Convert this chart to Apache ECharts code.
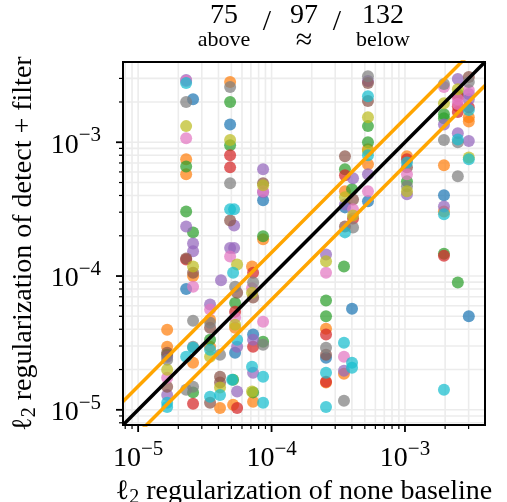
<!DOCTYPE html>
<html>
<head>
<meta charset="utf-8">
<script src="https://cdn.jsdelivr.net/npm/echarts@6/dist/echarts.min.js"></script>
<style>
  html, body { margin: 0; padding: 0; background: #fff; }
  #main { width: 507px; height: 502px; }
</style>
</head>
<body>
<div id="main"></div>
<script>
// both axes share the same limits
const axisMin = 7.7e-6
const axisMax = 3.98e-3
const decades = [1e-6, 1e-5, 1e-4, 1e-3]
const tickSteps = [1, 2, 3, 4, 5, 6, 7, 8, 9]

// header: count above / within / below the band
const counts = [75, 97, 132]
const countNames = ['above', '≈', 'below']
const bandRatio = 1.5

// points: [none baseline, detect + filter], one array per colour
const blue = [[2.58e-5, 2.1e-3], [2.29e-5, 8.0e-5], [4.89e-5, 1.36e-3], [5.33e-5, 2.67e-5], [8.64e-5, 3.68e-4], [7.27e-5, 3.65e-5],
  [2.56e-4, 2.45e-5], [4.01e-4, 5.7e-5], [3.01e-3, 5.0e-5], [3.55e-4, 3.26e-4], [5.28e-4, 3.62e-4], [1.96e-3, 4.01e-4]]
const orange = [[2.29e-5, 7.46e-4], [2.29e-5, 5.76e-4], [2.58e-5, 1.0e-4], [2.58e-5, 2.25e-5], [4.89e-5, 2.82e-3], [5.33e-5, 4.1e-5],
  [5.15e-5, 1.09e-5], [8.64e-5, 1.88e-4], [7.14e-5, 1.18e-4], [7.27e-5, 1.15e-5], [1.65e-5, 3.97e-5], [1.65e-5, 2.96e-5],
  [3.46e-5, 4.72e-5], [3.46e-5, 2.96e-5], [4.11e-5, 1.03e-5], [2.56e-4, 4.04e-5], [2.56e-4, 1.6e-5], [3.49e-4, 1.86e-5],
  [3.55e-4, 4.3e-4], [5.28e-4, 8.86e-4], [5.28e-4, 6.84e-4], [1.035e-3, 7.86e-4], [1.96e-3, 6.72e-4], [1.96e-3, 3.04e-4],
  [3.01e-3, 1.54e-3], [3.01e-3, 1.43e-3]]
const green = [[2.29e-5, 6.6e-4], [2.29e-5, 3.04e-4], [2.58e-5, 2.12e-4], [2.58e-5, 1.35e-5], [4.89e-5, 2.0e-3], [4.89e-5, 9.5e-4],
  [5.33e-5, 6.3e-5], [5.15e-5, 1.68e-5], [8.64e-5, 1.98e-4], [8.64e-5, 3.23e-5], [7.27e-5, 1.35e-5], [1.65e-5, 2.58e-5],
  [3.46e-5, 3.34e-5], [2.56e-4, 6.55e-5], [2.56e-4, 5.0e-5], [3.49e-4, 1.18e-4], [1.96e-3, 1.47e-4], [2.49e-3, 8.95e-5],
  [3.55e-4, 6.28e-4], [4.01e-4, 4.45e-4], [5.28e-4, 1.32e-3], [5.28e-4, 1.0e-3], [1.035e-3, 5.1e-4], [1.96e-3, 1.62e-3],
  [1.96e-3, 1.51e-3], [2.49e-3, 2.29e-3]]
const red = [[2.29e-5, 1.33e-4], [2.58e-5, 1.11e-5], [4.89e-5, 7.99e-4], [4.89e-5, 6.49e-4], [5.33e-5, 5.4e-5], [5.52e-5, 1.03e-5],
  [7.27e-5, 1.06e-4], [7.27e-5, 2.96e-5], [2.56e-4, 3.65e-5], [2.56e-4, 1.62e-5], [1.96e-3, 1.42e-4], [3.55e-4, 5.66e-4],
  [4.08e-4, 2.69e-4], [1.035e-3, 7.46e-4], [2.49e-3, 2.21e-3], [2.49e-3, 1.86e-3], [2.49e-3, 1.68e-3], [3.01e-3, 1.83e-3]]
const purple = [[2.29e-5, 2.92e-3], [2.29e-5, 2.35e-4], [2.58e-5, 1.75e-4], [2.58e-5, 1.53e-4], [5.24e-5, 2.39e-4], [4.89e-5, 1.62e-4],
  [5.24e-5, 1.62e-4], [4.18e-5, 9.3e-5], [5.52e-5, 2.96e-5], [5.52e-5, 1.37e-5], [8.64e-5, 6.28e-4], [8.64e-5, 4.23e-4],
  [7.27e-5, 3.34e-5], [7.27e-5, 1.89e-5], [1.65e-5, 2.49e-5], [1.65e-5, 1.29e-5], [3.46e-5, 6.12e-5], [2.56e-4, 1.45e-4],
  [3.49e-4, 1.96e-5], [4.08e-4, 5.38e-4], [3.55e-4, 3.43e-4], [5.28e-4, 2.87e-3], [5.28e-4, 5.76e-4], [1.035e-3, 4.08e-4],
  [1.96e-3, 1.36e-3], [1.96e-3, 3.31e-4], [2.49e-3, 2.97e-3], [2.49e-3, 1.17e-3], [3.01e-3, 2.29e-3], [3.01e-3, 2.1e-3],
  [3.01e-3, 1.02e-3]]
const brown = [[2.29e-5, 1.35e-4], [2.58e-5, 1.06e-4], [4.89e-5, 2.6e-4], [5.52e-5, 7.5e-5], [8.64e-5, 4.93e-4], [7.27e-5, 6.9e-5],
  [1.65e-5, 2.67e-5], [1.65e-5, 1.49e-5], [3.46e-5, 4.1e-5], [3.46e-5, 1.13e-5], [4.11e-5, 1.77e-5], [4.11e-5, 1.6e-5],
  [2.56e-4, 2.58e-5], [3.55e-4, 7.86e-4], [4.08e-4, 3.74e-4], [3.55e-4, 2.35e-4], [5.28e-4, 2.77e-3], [5.28e-4, 2.03e-3],
  [1.035e-3, 6.49e-4], [3.01e-3, 3.07e-3]]
const pink = [[2.29e-5, 2.87e-3], [2.29e-5, 1.07e-3], [2.58e-5, 8.3e-5], [4.89e-5, 1.4e-4], [5.33e-5, 4.9e-5], [8.64e-5, 4.3e-4],
  [7.14e-5, 8.1e-5], [8.64e-5, 4.56e-5], [3.46e-5, 5.61e-5], [1.65e-5, 1.74e-5], [2.56e-4, 1.06e-4], [3.49e-4, 2.49e-5],
  [4.08e-4, 3.15e-4], [5.28e-4, 4.3e-4], [1.035e-3, 5.76e-4], [1.96e-3, 2.59e-3], [2.49e-3, 2.1e-3], [2.49e-3, 1.93e-3],
  [3.01e-3, 2.45e-3]]
const gray = [[2.29e-5, 2.0e-3], [2.58e-5, 4.64e-5], [2.29e-5, 1.41e-5], [2.58e-5, 1.49e-5], [2.58e-5, 2.96e-5], [4.89e-5, 2.59e-3],
  [4.89e-5, 4.93e-4], [5.33e-5, 8.3e-5], [7.27e-5, 8.95e-5], [8.64e-5, 3.07e-5], [1.65e-5, 2.37e-5], [3.46e-5, 4.48e-5],
  [4.11e-5, 2.58e-5], [2.56e-4, 2.91e-5], [3.49e-4, 1.17e-5], [4.08e-4, 2.31e-4], [5.28e-4, 3.12e-3], [1.035e-3, 4.69e-4],
  [1.96e-3, 2.72e-3], [1.96e-3, 1.04e-3], [2.49e-3, 1.0e-3], [2.49e-3, 5.57e-4], [3.01e-3, 2.82e-3]]
const olive = [[2.29e-5, 1.32e-3], [2.58e-5, 1.18e-4], [4.89e-5, 1.04e-3], [5.52e-5, 1.22e-4], [5.33e-5, 4.33e-5], [8.64e-5, 4.77e-4],
  [7.14e-5, 7.5e-5], [7.14e-5, 1.37e-5], [1.65e-5, 1.99e-5], [3.46e-5, 2.49e-5], [4.11e-5, 1.47e-5], [2.56e-4, 1.29e-4],
  [3.55e-4, 3.88e-4], [4.08e-4, 2.84e-4], [5.28e-4, 1.54e-3], [5.28e-4, 8.6e-4], [1.035e-3, 4.3e-4], [1.96e-3, 1.96e-3],
  [2.49e-3, 2.49e-3], [3.01e-3, 7.7e-4]]
const cyan = [[2.29e-5, 2.77e-3], [2.29e-5, 2.49e-5], [2.58e-5, 2.91e-5], [4.89e-5, 3.15e-4], [5.24e-5, 3.15e-4], [5.15e-5, 1.06e-4],
  [5.52e-5, 3.34e-5], [5.06e-5, 1.68e-5], [7.14e-5, 2.1e-5], [8.64e-5, 1.77e-5], [8.64e-5, 1.13e-5], [1.65e-5, 1.13e-5],
  [1.65e-5, 1.05e-5], [3.46e-5, 2.81e-5], [3.46e-5, 1.25e-5], [4.11e-5, 1.29e-5], [2.56e-4, 1.89e-5], [2.56e-4, 1.05e-5],
  [3.49e-4, 3.17e-5], [4.01e-4, 2.25e-5], [4.01e-4, 2.06e-5], [1.96e-3, 1.41e-5], [3.55e-4, 2.12e-4], [5.28e-4, 2.21e-3],
  [5.28e-4, 7.99e-4], [1.035e-3, 7.07e-4], [1.96e-3, 2.89e-4], [2.49e-3, 1.05e-3], [3.01e-3, 1.74e-3], [3.01e-3, 7.46e-4]]

const groups = [
  [blue, '#1f77b4'], [orange, '#ff7f0e'], [green, '#2ca02c'], [red, '#d62728'], [purple, '#9467bd'],
  [brown, '#8c564b'], [pink, '#e377c2'], [gray, '#7f7f7f'], [olive, '#bcbd22'], [cyan, '#17becf']
]

const FONT = '"Liberation Serif", "DejaVu Serif", serif'

// all log grid positions (1..9 x decade) inside the range
const gridVals = []
decades.forEach(d => {
  tickSteps.forEach(m => {
    const v = m * d
    if (v > axisMin * 1.001 && v < axisMax * 0.999) gridVals.push({ v: v, major: m === 1 })
  })
})

function decadeLabel (v) {
  const e = Math.round(Math.log10(v))
  if (Math.abs(v / Math.pow(10, e) - 1) > 1e-6) return ''
  return '{b|10}{s|' + (e < 0 ? '−' : '') + Math.abs(e) + '}'
}

const labelRich = {
  b: { fontFamily: FONT, fontSize: 28, color: '#000', lineHeight: 34, verticalAlign: 'bottom' },
  s: { fontFamily: FONT, fontSize: 21, color: '#000', lineHeight: 20, verticalAlign: 'top' }
}
const nameRich = {
  l: { fontFamily: FONT, fontSize: 28, color: '#000', lineHeight: 30, verticalAlign: 'top' },
  u: { fontFamily: FONT, fontSize: 20, color: '#000', lineHeight: 18, verticalAlign: 'bottom' },
  t: { fontFamily: FONT, fontSize: 28, color: '#000', lineHeight: 30, verticalAlign: 'top' }
}

function renderGrid (params, api) {
  const cs = params.coordSys
  const children = []
  gridVals.forEach(g => {
    const px = api.coord([g.v, axisMin])[0]
    const py = api.coord([axisMin, g.v])[1]
    const len = g.major ? 7 : 4
    const w = g.major ? 1.8 : 1.2
    children.push({ type: 'line', shape: { x1: px, y1: cs.y, x2: px, y2: cs.y + cs.height }, style: { stroke: '#ececec', lineWidth: 1.6 } })
    children.push({ type: 'line', shape: { x1: cs.x, y1: py, x2: cs.x + cs.width, y2: py }, style: { stroke: '#ececec', lineWidth: 1.6 } })
    children.push({ type: 'line', shape: { x1: px, y1: cs.y + cs.height, x2: px, y2: cs.y + cs.height + len }, style: { stroke: '#000', lineWidth: w } })
    children.push({ type: 'line', shape: { x1: cs.x, y1: py, x2: cs.x - len, y2: py }, style: { stroke: '#000', lineWidth: w } })
  })
  return { type: 'group', children: children }
}

function renderFrame (params) {
  const cs = params.coordSys
  return { type: 'rect', shape: { x: cs.x, y: cs.y, width: cs.width, height: cs.height }, style: { fill: null, stroke: '#000', lineWidth: 2 } }
}

const chart = echarts.init(document.getElementById('main'))

const series = [
  { type: 'custom', renderItem: renderGrid, data: [[1e-4, 1e-4]], z: 0, silent: true, clip: false },
  { type: 'custom', renderItem: renderFrame, data: [[1e-4, 1e-4]], z: 10, silent: true, clip: false }
]
groups.forEach(g => {
  series.push({
    type: 'scatter',
    data: g[0],
    symbolSize: 12,
    itemStyle: { color: g[1], opacity: 0.72 },
    z: 2
  })
})
const lineDefs = [[bandRatio, '#ffa500'], [1 / bandRatio, '#ffa500'], [1, '#000000']]
lineDefs.forEach(l => {
  series.push({
    type: 'line',
    data: [[axisMin, axisMin * l[0]], [axisMax, axisMax * l[0]]],
    showSymbol: false,
    symbol: 'none',
    lineStyle: { color: l[1], width: 3.5 },
    z: 5,
    clip: true,
    animation: false
  })
})

// header texts
const headX = [224, 304, 383]
const nameSize = [22, 30, 22]
const nameY = [40, 41, 40]
const slashX = [267, 337]
const graphics = []
counts.forEach((c, i) => {
  graphics.push({ type: 'text', x: headX[i], y: 2, style: { text: String(c), font: '28px ' + FONT, fill: '#000', textAlign: 'center', textVerticalAlign: 'top' } })
  graphics.push({ type: 'text', x: headX[i], y: nameY[i], style: { text: countNames[i], font: nameSize[i] + 'px ' + FONT, fill: '#000', textAlign: 'center', textVerticalAlign: 'middle' } })
})
slashX.forEach(x => {
  graphics.push({ type: 'text', x: x, y: 22, style: { text: '/', font: '30px ' + FONT, fill: '#000', textAlign: 'center', textVerticalAlign: 'middle' } })
})

chart.setOption({
  animation: false,
  backgroundColor: '#fff',
  grid: { left: 123, right: 22, top: 62, bottom: 77, show: false, outerBoundsMode: 'none', containLabel: false },
  xAxis: {
    type: 'log',
    logBase: 10,
    min: axisMin,
    max: axisMax,
    axisLine: { show: false },
    axisTick: { show: false },
    splitLine: { show: false },
    axisLabel: { formatter: decadeLabel, margin: 14, rich: labelRich, showMinLabel: false, showMaxLabel: false },
    name: '{l|ℓ}{u|2}{t| regularization of none baseline}',
    nameLocation: 'middle',
    nameGap: 48,
    nameTextStyle: { rich: nameRich }
  },
  yAxis: {
    type: 'log',
    logBase: 10,
    min: axisMin,
    max: axisMax,
    axisLine: { show: false },
    axisTick: { show: false },
    splitLine: { show: false },
    axisLabel: { formatter: decadeLabel, margin: 22, rich: labelRich, showMinLabel: false, showMaxLabel: false },
    name: '{l|ℓ}{u|2}{t| regularization of detect + filter}',
    nameLocation: 'middle',
    nameGap: 79,
    nameTextStyle: { rich: nameRich }
  },
  graphic: graphics,
  series: series
})
</script>
</body>
</html>
